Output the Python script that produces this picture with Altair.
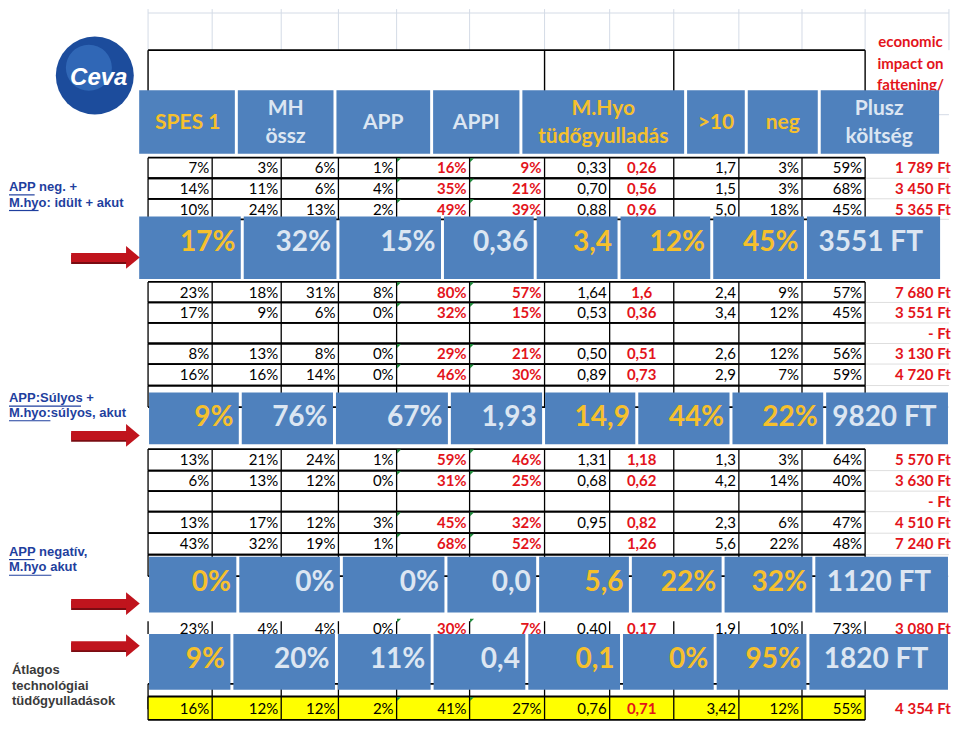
import altair as alt
import pandas as pd

# ---------------- chart values ----------------
header_lines = [["SPES 1"], ["MH", "össz"], ["APP"], ["APPI"], ["M.Hyo", "tüdőgyulladás"],
                [">10"], ["neg"], ["Plusz", "költség"]]
header_tones = ["gold", "pale", "pale", "pale", "gold", "gold", "gold", "pale"]

row_a1 = ["7%", "3%", "6%", "1%", "16%", "9%", "0,33", "0,26", "1,7", "3%", "59%", "1 789 Ft"]
row_a2 = ["14%", "11%", "6%", "4%", "35%", "21%", "0,70", "0,56", "1,5", "3%", "68%", "3 450 Ft"]
row_a3 = ["10%", "24%", "13%", "2%", "49%", "39%", "0,88", "0,96", "5,0", "18%", "45%", "5 365 Ft"]
row_b1 = ["23%", "18%", "31%", "8%", "80%", "57%", "1,64", "1,6", "2,4", "9%", "57%", "7 680 Ft"]
row_b2 = ["17%", "9%", "6%", "0%", "32%", "15%", "0,53", "0,36", "3,4", "12%", "45%", "3 551 Ft"]
row_b3 = ["", "", "", "", "", "", "", "", "", "", "", "-    Ft"]
row_b4 = ["8%", "13%", "8%", "0%", "29%", "21%", "0,50", "0,51", "2,6", "12%", "56%", "3 130 Ft"]
row_b5 = ["16%", "16%", "14%", "0%", "46%", "30%", "0,89", "0,73", "2,9", "7%", "59%", "4 720 Ft"]
row_c1 = ["13%", "21%", "24%", "1%", "59%", "46%", "1,31", "1,18", "1,3", "3%", "64%", "5 570 Ft"]
row_c2 = ["6%", "13%", "12%", "0%", "31%", "25%", "0,68", "0,62", "4,2", "14%", "40%", "3 630 Ft"]
row_c3 = ["", "", "", "", "", "", "", "", "", "", "", "-    Ft"]
row_c4 = ["13%", "17%", "12%", "3%", "45%", "32%", "0,95", "0,82", "2,3", "6%", "47%", "4 510 Ft"]
row_c5 = ["43%", "32%", "19%", "1%", "68%", "52%", "", "1,26", "5,6", "22%", "48%", "7 240 Ft"]
row_d1 = ["23%", "4%", "4%", "0%", "30%", "7%", "0.40", "0.17", "1.9", "10%", "73%", "3 080 Ft"]
row_avg = ["16%", "12%", "12%", "2%", "41%", "27%", "0,76", "0,71", "3,42", "12%", "55%", "4 354 Ft"]
row_empty = [""] * 12

banner_1 = ["17%", "32%", "15%", "0,36", "3,4", "12%", "45%", "3551 FT"]
banner_2 = ["9%", "76%", "67%", "1,93", "14,9", "44%", "22%", "9820 FT"]
banner_3 = ["0%", "0%", "0%", "0,0", "5,6", "22%", "32%", "1120 FT"]
banner_4 = ["9%", "20%", "11%", "0,4", "0,1", "0%", "95%", "1820 FT"]
banner_tones = ["gold", "pale", "pale", "pale", "gold", "gold", "gold", "pale"]

side_blue = ["APP  neg. +", "M.hyo: idült + akut", "APP:Súlyos +", "M.hyo:súlyos, akut",
             "APP negatív,", "M.hyo akut"]
side_dark = ["Átlagos", "technológiai", "tüdőgyulladások"]
note_lines = ["economic", "impact on", "fattening/"]
logo_text = "Ceva"

# ---------------- layout / style ----------------
W, H = 943, 713
XS = alt.Scale(domain=[4, 955], nice=False, zero=False)
YS = alt.Scale(domain=[4, 725], nice=False, zero=False, reverse=True)
FONT = "Lato, 'Open Sans', sans-serif"
ARIAL = "'Liberation Sans', Arial, sans-serif"
BLUE = "#4f81bd"
TONE = {"gold": "#f6c02c", "pale": "#dce6f2"}
RED = "#e3141b"
COL_EDGES = [146, 211, 281, 339, 398, 472, 548, 614, 679, 745, 809, 873, 958]
RED_COLS = {4, 5, 7, 11}

table_rows = [
    (row_a1, 152, 173, "n"), (row_a2, 173, 194, "n"), (row_a3, 194, 215, "n"),
    (row_b1, 279, 300, "n"), (row_b2, 300, 321, "n"), (row_b3, 321, 342, "n"),
    (row_b4, 342, 363, "n"), (row_b5, 363, 385, "n"), (row_empty, 385, 407, "n"),
    (row_c1, 450, 472, "n"), (row_c2, 472, 493, "n"), (row_c3, 493, 514, "n"),
    (row_c4, 514, 536, "n"), (row_c5, 536, 558, "n"), (row_empty, 558, 580, "n"),
    (row_d1, 623, 643, "t"), (row_empty, 690, 716, "n"), (row_avg, 703, 727, "y"),
]

header_edges = [137, 235.5, 335.5, 433.5, 524, 691, 752.5, 826.5, 948]
banners = [
    (banner_1, 212, 276, 239, [137, 241.5, 338.5, 444.5, 538.5, 623.5, 717.5, 812.5, 949]),
    (banner_2, 392, 445, 418, [147, 239.5, 335, 451.5, 547, 641.5, 737, 832, 957]),
    (banner_3, 560, 617, 587, [147, 237, 342, 448, 541, 635, 729, 821, 957]),
    (banner_4, 639, 696, 666, [147, 231, 337, 434, 530, 626, 721, 815, 957]),
]
arrow_ys = [254, 436, 608, 651]
side_blue_y = [182, 198, 398, 413, 555, 571]
side_blue_ul = [(5, 31), (5, 35), (5, 78), (5, 47), (5, 31), (5, 48)]
side_dark_y = [676, 692, 708]


def X(f="x"):
    return alt.X(f + ":Q", scale=XS, axis=None)


def Y(f="y"):
    return alt.Y(f + ":Q", scale=YS, axis=None)


def rects(recs, **kw):
    return alt.Chart(pd.DataFrame(recs)).mark_rect(**kw).encode(
        x=X(), x2="x2:Q", y=Y(), y2="y2:Q", color=alt.Color("c:N", scale=None))


def rules(recs, **kw):
    return alt.Chart(pd.DataFrame(recs)).mark_rule(**kw).encode(
        x=X(), x2="x2:Q", y=Y(), y2="y2:Q", color=alt.Color("c:N", scale=None),
        strokeWidth=alt.StrokeWidth("w:Q", scale=None))


def texts(recs, **kw):
    return alt.Chart(pd.DataFrame(recs)).mark_text(**kw).encode(
        x=X(), y=Y(), text="t:N", color=alt.Color("c:N", scale=None))


def points(recs, **kw):
    return alt.Chart(pd.DataFrame(recs)).mark_point(filled=True, opacity=1, **kw).encode(
        x=X(), y=Y(), color=alt.Color("c:N", scale=None))


layers = []

# faint spreadsheet grid at the top
grid = [dict(x=e, x2=e, y=0, y2=42, c="#d4dbe6", w=1) for e in COL_EDGES]
grid.append(dict(x=146, x2=958, y=4, y2=4, c="#d4dbe6", w=1))
grid.append(dict(x=873, x2=958, y=108, y2=108, c="#d4dbe6", w=1))
layers.append(rules(grid))

# header frame (black)
frame = [dict(x=146, x2=873, y=42, y2=42, c="black", w=1.6)]
frame += [dict(x=e, x2=e, y=42, y2=84, c="black", w=1.4) for e in (146, 548, 679, 873)]
layers.append(rules(frame))

# note text
layers.append(texts([dict(x=919, y=34 + 22 * i, t=s, c=RED) for i, s in enumerate(note_lines)],
                    font=FONT, fontSize=15, fontWeight="bold", align="center", baseline="middle"))

# table cell lines and texts
lines, txt_rows, greens = [], [], []
avg_lines = []
for vals, top, bot, kind in table_rows:
    target = avg_lines if kind == "y" else lines
    if kind != "t":
        target.append(dict(x=146, x2=873, y=top, y2=top, c="black", w=1.8))
        target.append(dict(x=146, x2=873, y=bot, y2=bot, c="black", w=1.8))
        if kind == "n":
            target.append(dict(x=873, x2=958, y=bot, y2=bot, c="#dedede", w=1))
        vt, vb = top, bot
    else:
        vt, vb = top + 3, bot - 4
    for e in COL_EDGES[:-1]:
        target.append(dict(x=e, x2=e, y=vt, y2=vb, c="black", w=1.3))
    ym = (top + bot) / 2 + 0.5
    if vals[4] != "":
        greens.append(dict(x=400.5, y=top + 2.5, c="#1e8a3a"))
        greens.append(dict(x=474.5, y=top + 2.5, c="#1e8a3a"))
    for j, v in enumerate(vals):
        if v == "":
            continue
        red = j in RED_COLS and not (kind == "y" and j in (4, 5))
        if j == 7:
            xx, al = (COL_EDGES[7] + COL_EDGES[8]) / 2, "center"
        elif j == 11:
            xx, al = 960, "right"
        else:
            xx, al = COL_EDGES[j + 1] - 3, "right"
        txt_rows.append(dict(x=xx, y=ym, t=v, c=RED if red else "black",
                             b=red, a=al, kind=kind))


def table_text(recs):
    out = []
    for bold in (False, True):
        for al in ("right", "center"):
            sub = [r for r in recs if r["b"] == bold and r["a"] == al]
            if sub:
                out.append(texts(sub, font=FONT, fontSize=15, align=al, baseline="middle",
                                 fontWeight="bold" if bold else "normal"))
    return out


normal_rows = [r for r in txt_rows if r["kind"] != "y"]
avg_rows = [r for r in txt_rows if r["kind"] == "y"]
layers.append(rules(lines))
layers += table_text(normal_rows)

# yellow average row (drawn over the hidden row beneath)
layers.append(rects([dict(x=146, x2=873, y=703, y2=727, c="#ffff00"),
                     dict(x=873, x2=958, y=703, y2=727, c="white")]))
layers.append(rules(avg_lines))
layers += table_text(avg_rows)
layers.append(points(greens, shape="M -1 -1 L 1 -1 L -1 1 Z", size=16))

# header banner
hcells = [dict(x=header_edges[i] + (1.5 if i else 0), x2=header_edges[i + 1] - (1.5 if i < 7 else 0),
               y=83, y2=148, c=BLUE) for i in range(8)]
layers.append(rects(hcells))
htxt = []
for i, parts in enumerate(header_lines):
    cx = (header_edges[i] + header_edges[i + 1]) / 2
    ys = [117] if len(parts) == 1 else [102, 131]
    for p, yy in zip(parts, ys):
        htxt.append(dict(x=cx, y=yy, t=p, c=TONE[header_tones[i]]))
layers.append(texts(htxt, font=FONT, fontSize=21, fontWeight="bold", align="center",
                    baseline="middle"))

# value banners
for vals, top, bot, ym, edges in banners:
    cells = [dict(x=edges[i] + (1.5 if i else 0), x2=edges[i + 1] - (1.5 if i < 7 else 0),
                  y=top, y2=bot, c=BLUE) for i in range(8)]
    layers.append(rects(cells))
    rt = [dict(x=edges[i + 1] - 7, y=ym, t=vals[i], c=TONE[banner_tones[i]]) for i in range(7)]
    layers.append(texts(rt, font=FONT, fontSize=28, fontWeight="bold", align="right",
                        baseline="middle"))
    ct = [dict(x=(edges[7] + edges[8]) / 2 - 2, y=ym, t=vals[7], c=TONE[banner_tones[7]])]
    layers.append(texts(ct, font=FONT, fontSize=28, fontWeight="bold", align="center",
                        baseline="middle"))

# side labels
layers.append(texts([dict(x=5, y=side_blue_y[i], t=s, c="#1f3f9e") for i, s in enumerate(side_blue)],
                    font=ARIAL, fontSize=13, fontWeight="bold", align="left", baseline="middle"))
uls = [dict(x=a, x2=b, y=yy + 8, y2=yy + 8, c="#1f3f9e", w=1.2)
       for (a, b), yy in zip(side_blue_ul, side_blue_y)]
layers.append(rules(uls))
layers.append(texts([dict(x=8, y=side_dark_y[i], t=s, c="#3a3a3a") for i, s in enumerate(side_dark)],
                    font=ARIAL, fontSize=13, fontWeight="bold", align="left", baseline="middle"))

# red arrows
layers.append(rules([dict(x=68, x2=126, y=a + 2, y2=a + 2, c="#7a0c12", w=9) for a in arrow_ys]))
layers.append(rules([dict(x=68, x2=126, y=a, y2=a, c="#c0141d", w=9) for a in arrow_ys]))
layers.append(points([dict(x=126, y=a, c="#c0141d") for a in arrow_ys],
                     shape="M -0.2 -1 L 1 0 L -0.2 1 Z", size=520))

# logo
layers.append(points([dict(x=92, y=68, c="#1c4c9c")], shape="circle", size=78 * 78))
layers.append(alt.Chart(pd.DataFrame([dict(x=86, y=60, c="#4a8ad6")])).mark_point(
    shape="circle", filled=True, size=46 * 46, opacity=0.45).encode(
    x=X(), y=Y(), color=alt.Color("c:N", scale=None)))
layers.append(texts([dict(x=96, y=70, t=logo_text, c="white")], font=ARIAL, fontSize=24,
                    fontWeight="bold", fontStyle="italic", align="center", baseline="middle"))

chart = alt.layer(*layers).properties(
    width=W, height=H, padding=0,
    autosize=alt.AutoSizeParams(type="fit", contains="padding"),
    background="white",
).configure_view(stroke=None)

chart.save("out.html", embed_options={"renderer": "svg", "actions": False})
